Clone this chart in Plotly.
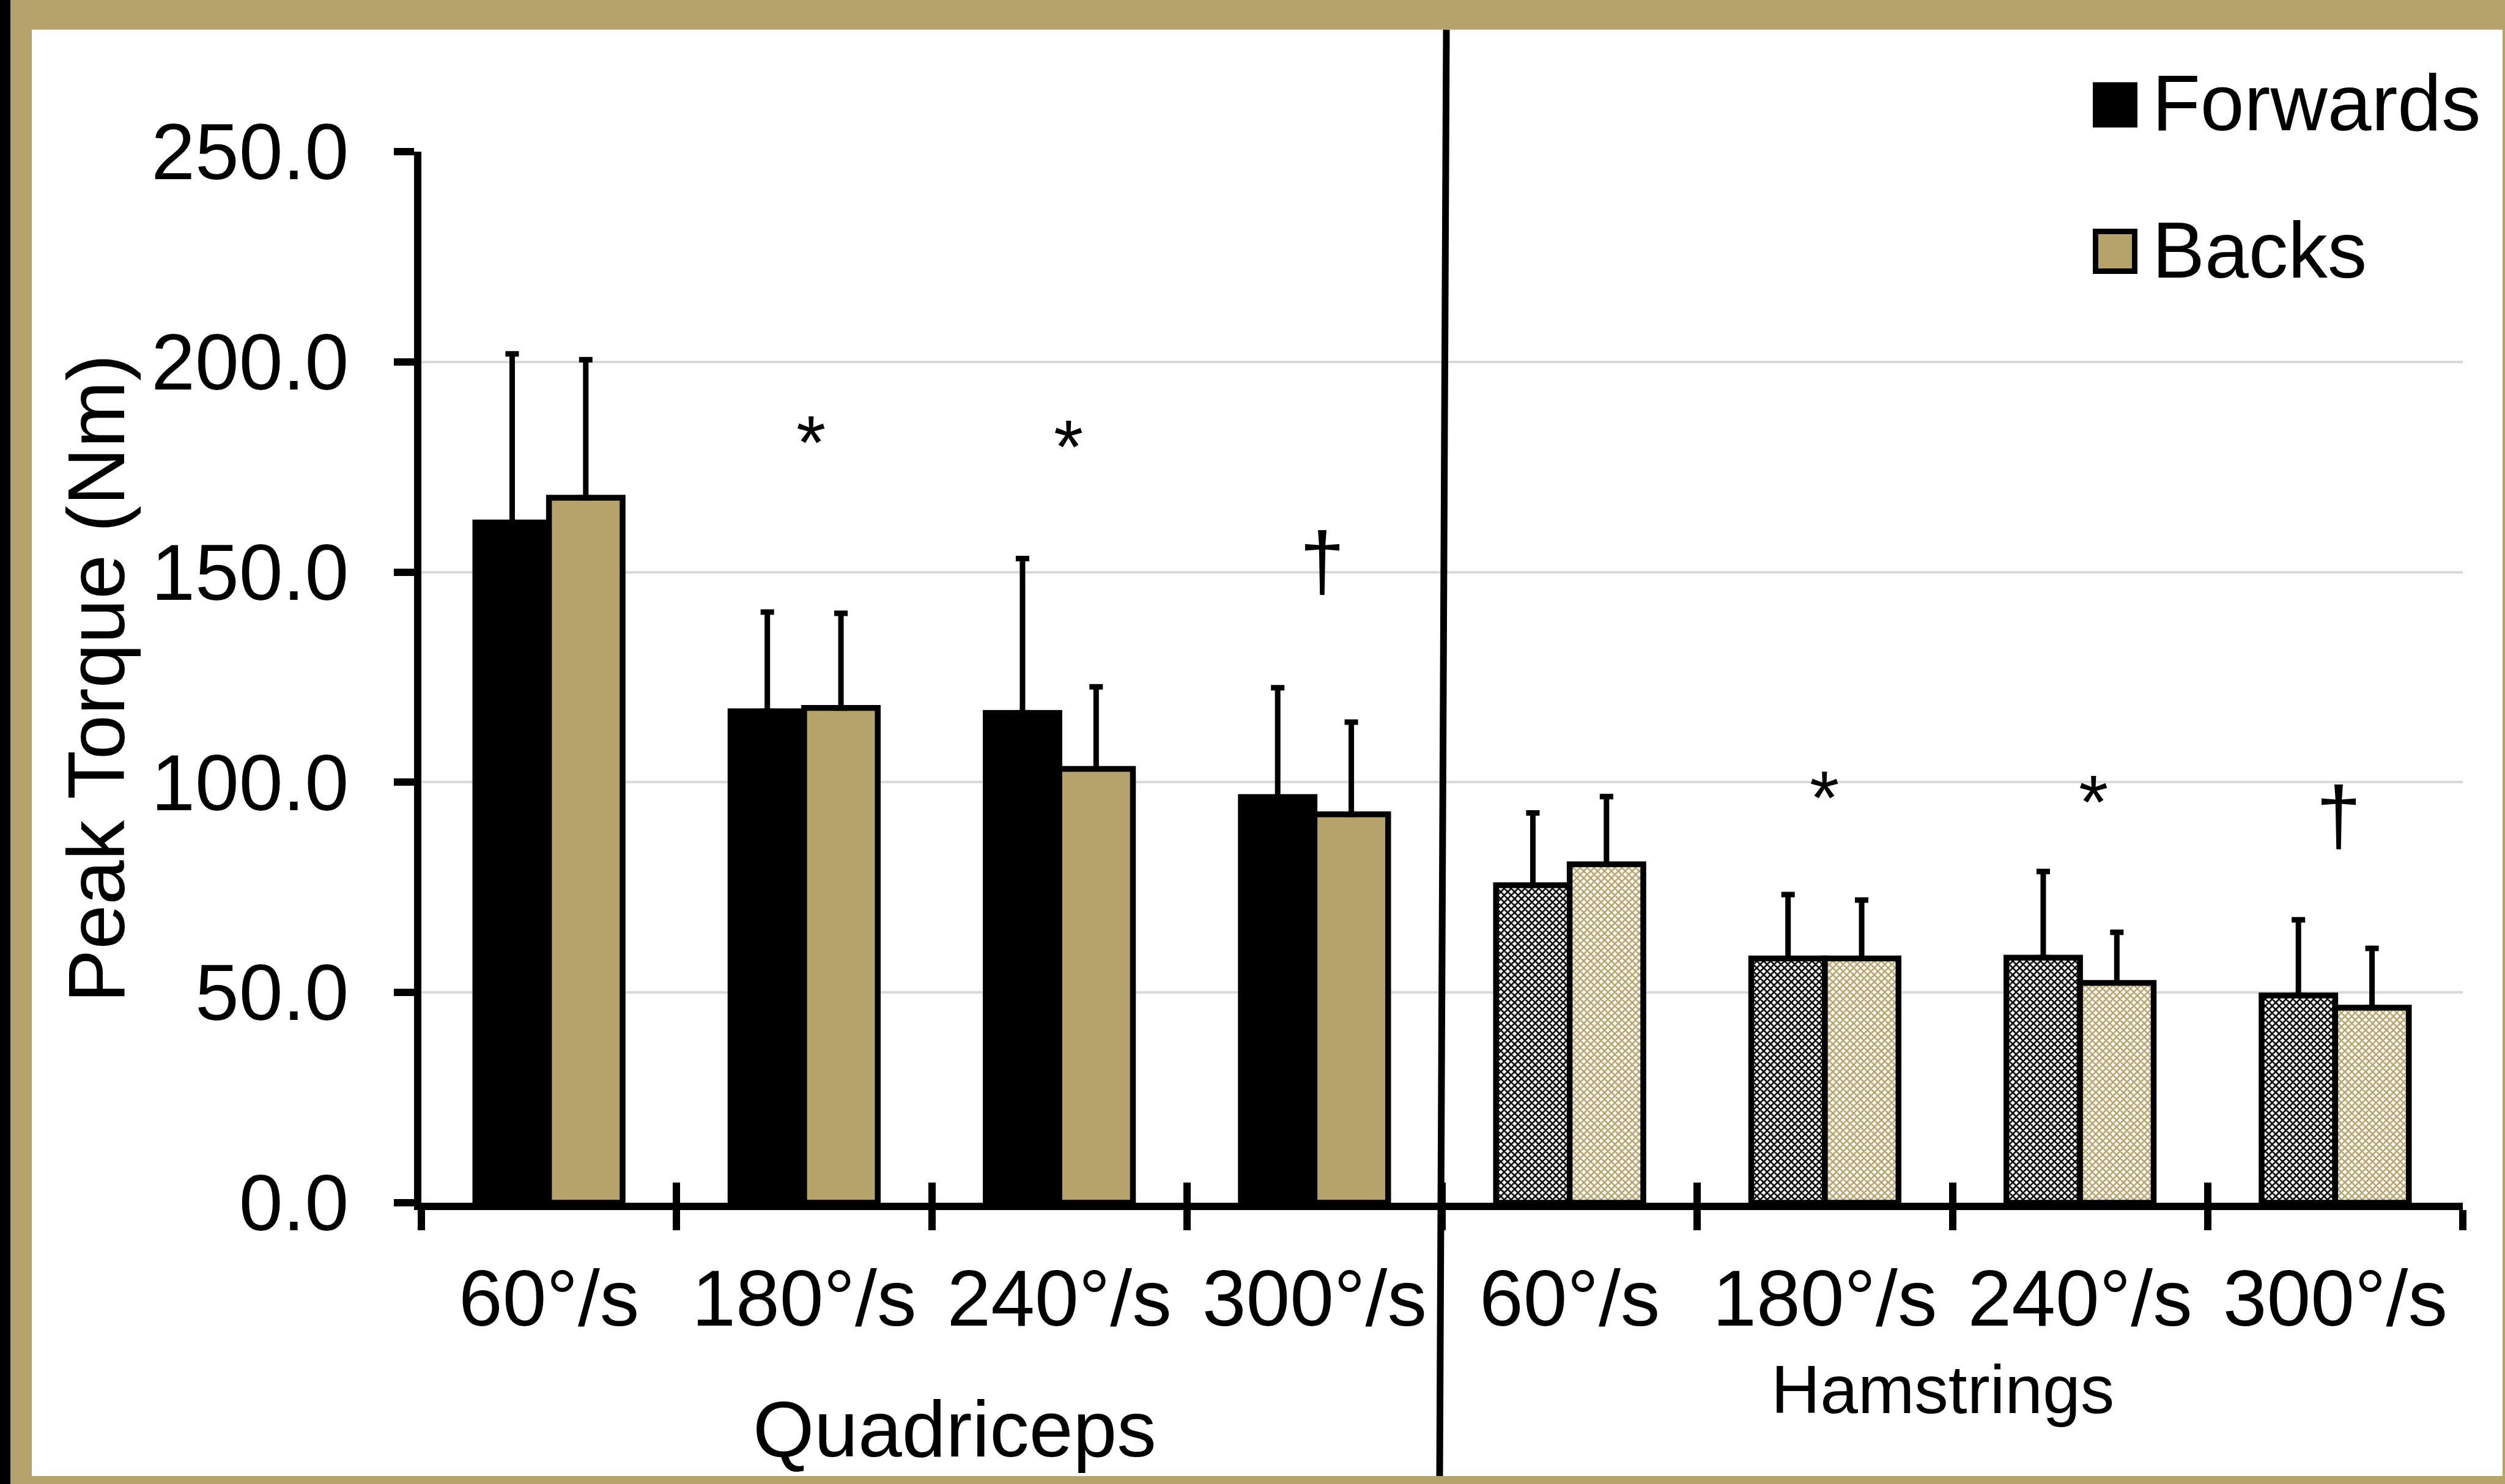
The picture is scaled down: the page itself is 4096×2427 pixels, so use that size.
import plotly.graph_objects as go

# ---------------- data ----------------
groups = ["Quadriceps"] * 4 + ["Hamstrings"] * 4
speeds = ["60°/s", "180°/s", "240°/s", "300°/s", "60°/s", "180°/s", "240°/s", "300°/s"]
keys = [g + " " + s for g, s in zip(groups, speeds)]

forwards_mean = [161.8, 116.9, 116.5, 96.5, 75.5, 58.1, 58.3, 49.3]
forwards_sd = [40.1, 23.6, 36.7, 26.0, 17.2, 15.2, 20.5, 18.0]
backs_mean = [167.7, 117.7, 103.2, 92.4, 80.5, 58.1, 52.3, 46.4]
backs_sd = [32.8, 22.5, 19.5, 21.9, 16.1, 13.9, 12.0, 14.1]

# significance markers: (category index, symbol, y value of glyph centre, x pixel shift)
sig_idx = [1, 2, 3, 5, 6, 7]
sig_sym = ["*", "*", "†", "*", "*", "†"]
sig_y = [183.6, 182.6, 151.5, 99.2, 98.2, 90.9]
sig_dx = [11, 15, 13, -1, 22, 6]

y_ticks = [0, 50, 100, 150, 200, 250]

# ---------------- styling ----------------
TAN = "#B6A36C"
BLACK = "#000000"
FONT = "Liberation Sans, Arial, sans-serif"
FS = 129
W, H = 4096, 2427
L, R, T, B = 689, 4027, 248, 1967  # plot area in pixels
PW, PH = R - L, B - T


def xp(px):
    return (px - L) / PW


def yp(py):
    return (B - py) / PH


hatched = [g == "Hamstrings" for g in groups]

fig = go.Figure()

fig.add_trace(go.Bar(
    name="Forwards", x=keys, y=forwards_mean,
    marker=dict(
        color=BLACK,
        line=dict(color=BLACK, width=9.5),
        pattern=dict(
            shape=["x" if h else "" for h in hatched],
            fgcolor=BLACK,
            bgcolor=["white" if h else BLACK for h in hatched],
            size=8, solidity=0.55, fillmode="replace",
        ),
    ),
    error_y=dict(type="data", symmetric=False, array=forwards_sd,
                 arrayminus=[0] * len(keys), color=BLACK, thickness=9, width=11),
    showlegend=False, hoverinfo="skip",
))
fig.add_trace(go.Bar(
    name="Backs", x=keys, y=backs_mean,
    marker=dict(
        color=TAN,
        line=dict(color=BLACK, width=9.5),
        pattern=dict(
            shape=["x" if h else "" for h in hatched],
            fgcolor=TAN,
            bgcolor=["white" if h else TAN for h in hatched],
            size=8, solidity=0.55, fillmode="replace",
        ),
    ),
    error_y=dict(type="data", symmetric=False, array=backs_sd,
                 arrayminus=[0] * len(keys), color=BLACK, thickness=9, width=11),
    showlegend=False, hoverinfo="skip",
))
# helper trace for the inside half of the crossing x ticks
fig.add_trace(go.Scatter(x=keys, y=[None] * len(keys), xaxis="x2", yaxis="y",
                         mode="markers", showlegend=False, hoverinfo="skip"))

fig.update_layout(
    width=W, height=H, autosize=False,
    margin=dict(l=L, r=W - R, t=T, b=H - B, pad=0),
    paper_bgcolor=TAN, plot_bgcolor="white",
    font=dict(family=FONT, color=BLACK, size=FS),
    barmode="group", bargap=0.423, bargroupgap=0,
    xaxis=dict(
        type="category", categoryorder="array", categoryarray=keys,
        range=[-0.5, len(keys) - 0.5],
        tickmode="array", tickvals=keys, ticktext=speeds,
        tickson="boundaries", ticks="outside", ticklen=33, tickwidth=12, tickcolor=BLACK,
        showline=True, linewidth=12, linecolor=BLACK,
        showgrid=False, zeroline=False,
        tickfont=dict(family=FONT, size=FS, color=BLACK),
        ticklabelstandoff=34,
    ),
    xaxis2=dict(
        type="category", categoryorder="array", categoryarray=keys,
        overlaying="x", anchor="y", side="bottom",
        range=[-0.5, len(keys) - 0.5],
        tickson="boundaries", ticks="inside", ticklen=33, tickwidth=12, tickcolor=BLACK,
        showticklabels=False, showline=False, showgrid=False, zeroline=False,
    ),
    yaxis=dict(
        range=[0, 250], tickmode="array", tickvals=y_ticks, tickformat=".1f",
        ticks="outside", ticklen=33, tickwidth=12, tickcolor=BLACK,
        showline=True, linewidth=12, linecolor=BLACK,
        showgrid=True, gridcolor="#D9D9D9", gridwidth=4, zeroline=False,
        tickfont=dict(family=FONT, size=FS, color=BLACK),
        ticklabelstandoff=48,
    ),
)

shapes = []
# white page inside the tan frame, black strip at far left
shapes.append(dict(type="rect", xref="paper", yref="paper", layer="below",
                   x0=xp(52), x1=xp(4092), y0=yp(48.6), y1=yp(2414),
                   fillcolor="white", line=dict(width=0)))
shapes.append(dict(type="rect", xref="paper", yref="paper", layer="below",
                   x0=xp(0), x1=xp(17), y0=yp(0), y1=yp(H),
                   fillcolor=BLACK, line=dict(width=0)))
# divider between muscle groups
shapes.append(dict(type="line", xref="paper", yref="paper",
                   x0=xp(2365), y0=yp(48.6), x1=xp(2354), y1=yp(2414),
                   line=dict(color=BLACK, width=11)))
# legend swatches
shapes.append(dict(type="rect", xref="paper", yref="paper",
                   x0=xp(3422), x1=xp(3495), y0=yp(134.6), y1=yp(208.5),
                   fillcolor=BLACK, line=dict(width=0)))
shapes.append(dict(type="rect", xref="paper", yref="paper",
                   x0=xp(3426.5), x1=xp(3490.5), y0=yp(378.5), y1=yp(443.5),
                   fillcolor=TAN, line=dict(color=BLACK, width=9)))
fig.update_layout(shapes=shapes)

ann = []
ann.append(dict(text="Forwards", xref="paper", yref="paper", x=xp(3517), y=yp(168),
                xanchor="left", yanchor="middle", showarrow=False,
                font=dict(family=FONT, size=FS, color=BLACK)))
ann.append(dict(text="Backs", xref="paper", yref="paper", x=xp(3517), y=yp(409),
                xanchor="left", yanchor="middle", showarrow=False,
                font=dict(family=FONT, size=FS, color=BLACK)))
ann.append(dict(text="Peak Torque (Nm)", xref="paper", yref="paper", x=xp(157), y=yp(1110),
                xanchor="center", yanchor="middle", textangle=-90, showarrow=False,
                font=dict(family=FONT, size=131, color=BLACK)))
ann.append(dict(text="Quadriceps", xref="paper", yref="paper", x=xp(1561), y=yp(2337),
                xanchor="center", yanchor="middle", showarrow=False,
                font=dict(family=FONT, size=FS, color=BLACK)))
ann.append(dict(text="Hamstrings", xref="paper", yref="paper", x=xp(3176), y=yp(2273),
                xanchor="center", yanchor="middle", showarrow=False,
                font=dict(family=FONT, size=111, color=BLACK)))
for i, s, yv, dx in zip(sig_idx, sig_sym, sig_y, sig_dx):
    size = 124 if s == "*" else 133
    ys = -0.16 * size if s == "*" else 0.058 * size
    ann.append(dict(text=s, xref="x", yref="y", x=keys[i], y=yv, xshift=dx, yshift=ys,
                    xanchor="center", yanchor="middle", showarrow=False,
                    font=dict(family=FONT, size=size, color=BLACK)))
fig.update_layout(annotations=ann)

fig.write_html(
    "out.html",
    config={"displayModeBar": False},
    post_script="document.body.style.margin='0';document.body.style.padding='0';"
                "document.body.style.overflow='hidden';",
)
